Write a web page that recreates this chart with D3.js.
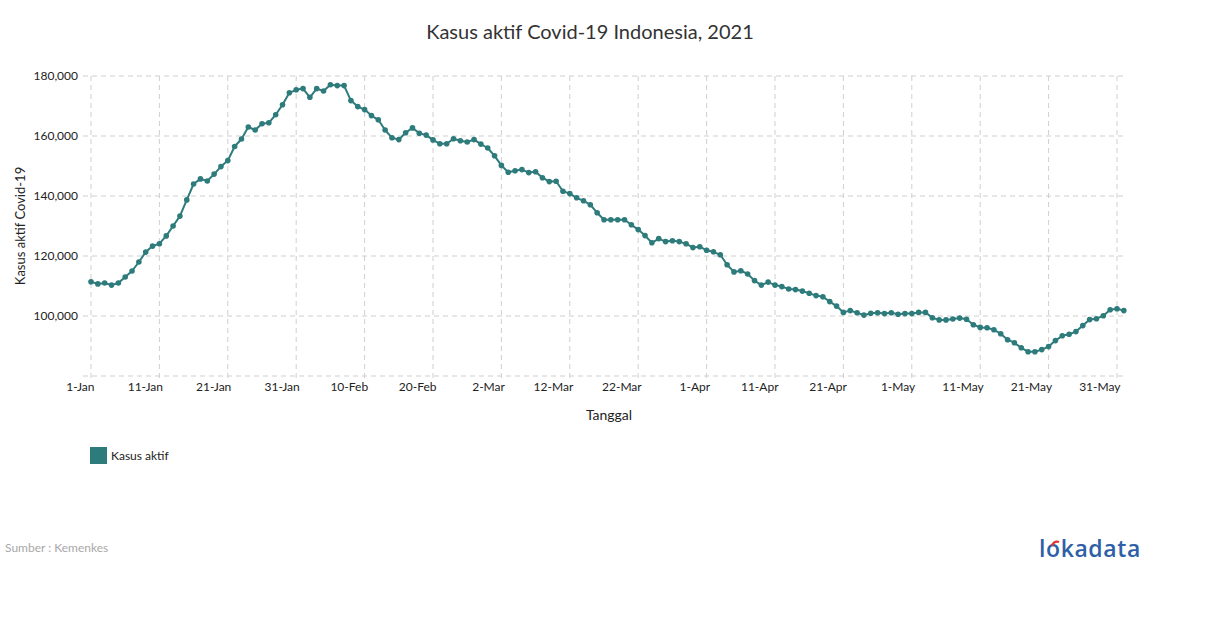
<!DOCTYPE html>
<html>
<head>
<meta charset="utf-8">
<script src="https://cdn.jsdelivr.net/npm/d3@7"></script>
<style>
  body { margin: 0; background: #fff; font-family: Lato, "Open Sans", sans-serif; }
  .grid line { stroke: #cfcfcf; stroke-dasharray: 5,4; }
  .tick text { fill: #222; font-size: 12px; font-family: Lato, sans-serif; }
</style>
</head>
<body>
<div id="chart"></div>
<script>
const startDate = '2021-01-01'
const activeCases = [
  // Jan
  111400, 110700, 111000, 110300, 111000, 113000, 115000, 118000, 121300, 123300,
  124100, 126700, 130000, 133300, 138700, 144000, 145700, 145000, 147300, 149800,
  151800, 156500, 159000, 163000, 162000, 164100, 164400, 167100, 170400, 174400, 175400,
  // Feb
  175800, 172900, 175800, 175000, 177100, 176800, 176800, 171800, 169800, 168800,
  166800, 165400, 162000, 159400, 158800, 161100, 162700, 160900, 160300, 158700,
  157400, 157400, 159100, 158400, 158000, 158800, 157300, 156000,
  // Mar
  153400, 150200, 147900, 148400, 148800, 147800, 148100, 146100, 144800, 144900,
  141600, 140800, 139400, 138400, 137100, 134400, 132100, 132100, 132100, 132100,
  130400, 128800, 126800, 124400, 125800, 124800, 125100, 124800, 124100, 122800, 123100,
  // Apr
  121900, 121400, 120400, 117100, 114700, 115100, 114000, 111800, 110300, 111300,
  110300, 109800, 109000, 108800, 108300, 107600, 106800, 106400, 104800, 103300,
  101200, 101800, 101100, 100300, 100900, 101100, 100800, 101100, 100600, 100800,
  // May
  100800, 101200, 101200, 99400, 98700, 98700, 99000, 99300, 98900, 97100,
  96200, 96100, 95400, 94100, 92100, 91100, 89400, 88100, 88100, 88800,
  89800, 91800, 93400, 93900, 94800, 96800, 98800, 99100, 100100, 102100, 102400,
  // Jun
  101800
]
const yTicks = [80000, 100000, 120000, 140000, 160000, 180000]
const xTickStep = 10

const parse = d3.timeParse('%Y-%m-%d')
const day0 = parse(startDate)
const data = activeCases.map((v, i) => ({ date: d3.timeDay.offset(day0, i), value: v }))
const xTicks = d3.range(0, 151, xTickStep).map(i => d3.timeDay.offset(day0, i))

const width = 1210
const height = 628
const plot = { left: 91, right: 1127, top: 76, bottom: 376 }
const color = '#2e7b7c'

const svg = d3.select('#chart').append('svg')
  .attr('width', width)
  .attr('height', height)

const x = d3.scaleTime()
  .domain([day0, xTicks[xTicks.length - 1]])
  .range([plot.left, 1117])

const y = d3.scaleLinear()
  .domain([80000, 180000])
  .range([plot.bottom, plot.top])

// grid
const grid = svg.append('g').attr('class', 'grid')
grid.selectAll('.hline').data(yTicks).enter().append('line')
  .attr('x1', plot.left - 8).attr('x2', plot.right)
  .attr('y1', d => y(d)).attr('y2', d => y(d))
grid.selectAll('.vline').data(xTicks).enter().append('line')
  .attr('x1', d => x(d)).attr('x2', d => x(d))
  .attr('y1', plot.top).attr('y2', plot.bottom + 6)

// y axis labels
const yAxis = d3.axisLeft(y)
  .tickValues(yTicks.slice(1))
  .tickFormat(d3.format(','))
  .tickSize(0)
  .tickPadding(13)
svg.append('g')
  .attr('transform', `translate(${plot.left}, 0)`)
  .call(yAxis)
  .call(g => g.select('.domain').remove())

// x axis labels
const xAxis = d3.axisBottom(x)
  .tickValues(xTicks)
  .tickFormat(d3.timeFormat('%-d-%b'))
  .tickSize(0)
  .tickPadding(6)
svg.append('g')
  .attr('transform', `translate(0, ${plot.bottom})`)
  .call(xAxis)
  .call(g => g.select('.domain').remove())
  .call(g => g.selectAll('text').attr('text-anchor', 'end').attr('dx', 3))

// line + points
const line = d3.line()
  .x(d => x(d.date))
  .y(d => y(d.value))

svg.append('path')
  .datum(data)
  .attr('fill', 'none')
  .attr('stroke', color)
  .attr('stroke-width', 2)
  .attr('stroke-linejoin', 'round')
  .attr('d', line)

svg.append('g').selectAll('circle').data(data).enter().append('circle')
  .attr('cx', d => x(d.date))
  .attr('cy', d => y(d.value))
  .attr('r', 2.8)
  .attr('fill', color)

// titles
svg.append('text')
  .attr('x', 590).attr('y', 39)
  .attr('text-anchor', 'middle')
  .style('font-size', '20px')
  .style('fill', '#333')
  .text('Kasus aktif Covid-19 Indonesia, 2021')

svg.append('text')
  .attr('transform', 'translate(25, 226) rotate(-90)')
  .attr('text-anchor', 'middle')
  .style('font-size', '13px')
  .style('fill', '#222')
  .text('Kasus aktif Covid-19')

svg.append('text')
  .attr('x', 609).attr('y', 420)
  .attr('text-anchor', 'middle')
  .style('font-size', '14px')
  .style('fill', '#222')
  .text('Tanggal')

// legend
svg.append('rect')
  .attr('x', 90).attr('y', 447)
  .attr('width', 17).attr('height', 17)
  .attr('fill', color)
svg.append('text')
  .attr('x', 111).attr('y', 460)
  .style('font-size', '12px')
  .style('fill', '#222')
  .text('Kasus aktif')

// footer
svg.append('text')
  .attr('x', 5).attr('y', 552)
  .style('font-size', '12px')
  .style('fill', '#a8a8a8')
  .text('Sumber : Kemenkes')

svg.append('text')
  .attr('x', 1039).attr('y', 557)
  .style('font-size', '23px')
  .style('font-weight', '600')
  .style('font-family', '"Open Sans", sans-serif')
  .style('letter-spacing', '0.6px')
  .style('fill', '#2f5fa6')
  .text('lokadata')
svg.append('path')
  .attr('d', 'M1052,546 a5,5 0 0,1 7,-4')
  .attr('fill', 'none')
  .attr('stroke', '#e0342f')
  .attr('stroke-width', 2.2)
</script>
</body>
</html>
